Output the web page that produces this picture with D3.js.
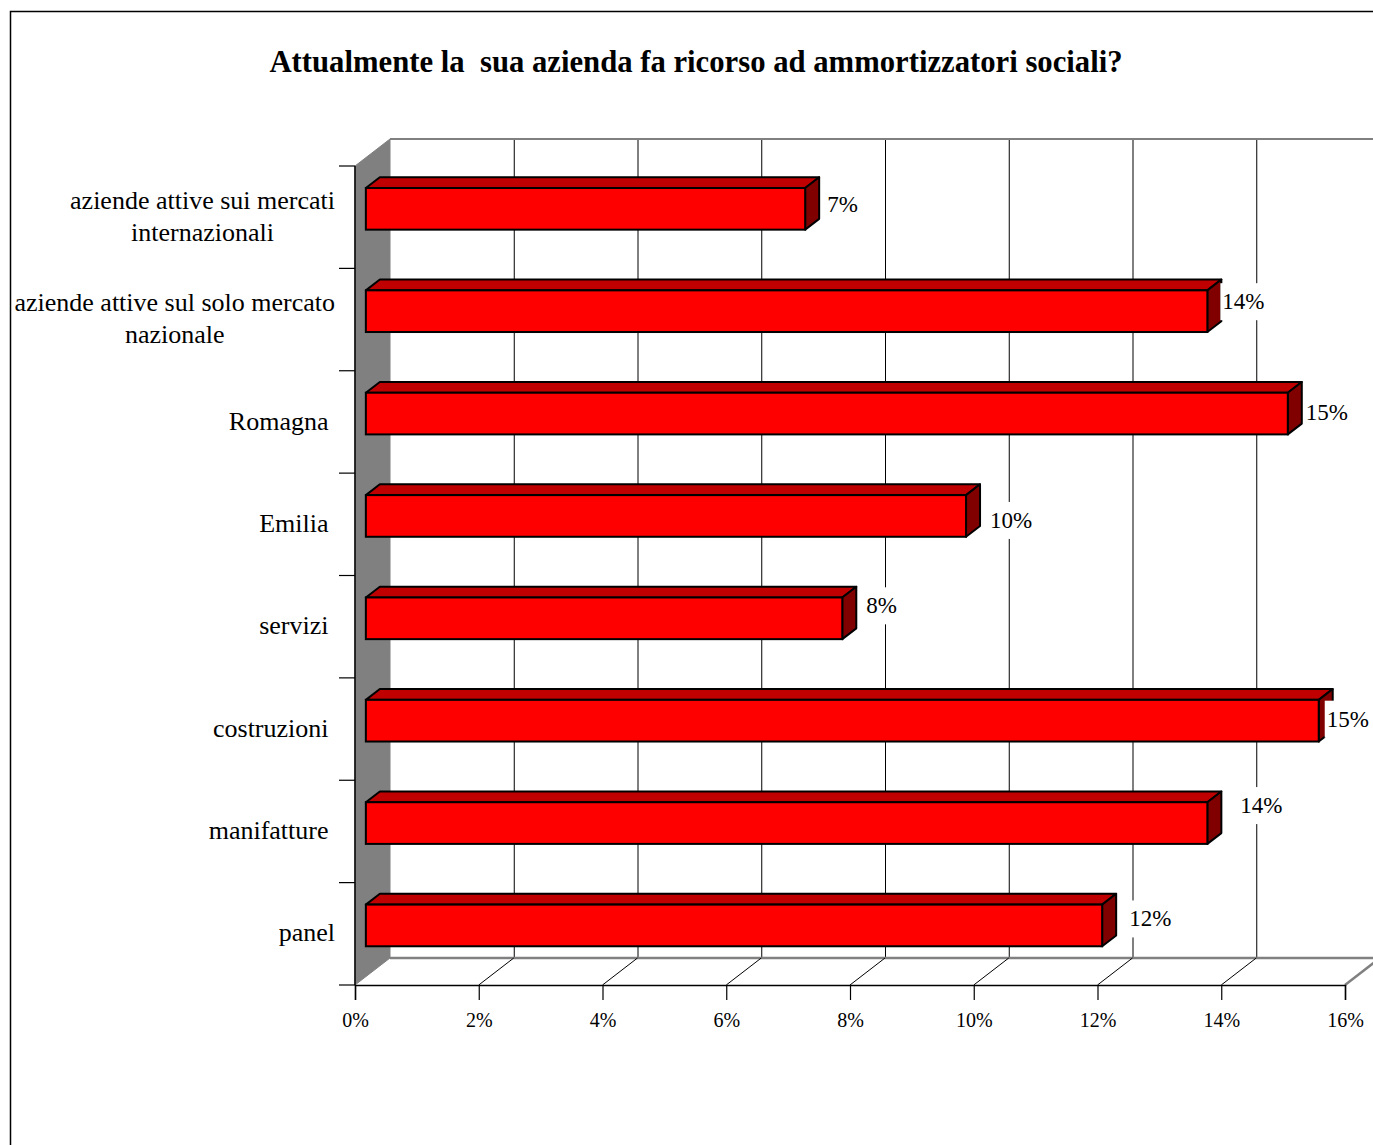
<!DOCTYPE html>
<html>
<head>
<meta charset="utf-8">
<script src="https://cdn.jsdelivr.net/npm/d3@7/dist/d3.min.js"></script>
<style>
  html, body { margin: 0; padding: 0; background: #fff; }
  svg { display: block; }
  text { font-family: "Liberation Serif", "Times New Roman", serif; fill: #000; white-space: pre; }
</style>
</head>
<body>
<svg id="chart" width="1373" height="1145"></svg>
<script>
// Chart text and values (percent of firms)
const title = "Attualmente la  sua azienda fa ricorso ad ammortizzatori sociali?";
const categories = [
  "aziende attive sui mercati\ninternazionali",
  "aziende attive sul solo mercato\nnazionale",
  "Romagna ",
  "Emilia ",
  "servizi ",
  "costruzioni ",
  "manifatture ",
  "panel"
];
const values = [7.1, 13.6, 14.9, 9.7, 7.7, 15.4, 13.6, 11.9];
const tickValues = [0, 2, 4, 6, 8, 10, 12, 14, 16];
const tickLabels = ["0%", "2%", "4%", "6%", "8%", "10%", "12%", "14%", "16%"];

// Hand-placed offsets of the value labels from the bar ends (px)
const labelNudge = [[22, -5], [15, -10], [18, -2], [24, 4], [24, -13], [8, -2], [33, -18], [27, -7]];

const svg = d3.select("#chart");

// Outer frame
svg.append("rect")
  .attr("x", 10.5).attr("y", 11.5).attr("width", 1420).attr("height", 1200)
  .attr("fill", "none").attr("stroke", "#000").attr("stroke-width", 1.5);

// Title
svg.append("text")
  .attr("x", 696).attr("y", 72)
  .attr("text-anchor", "middle")
  .attr("font-size", 30.7).attr("font-weight", "bold")
  .text(title);

// Plot geometry: front plane + depth offset to the back wall
const x = d3.scaleLinear().domain([0, 16]).range([355, 1345]);
const y = d3.scaleBand().domain(d3.range(categories.length)).range([166, 985]);
const DX = 35, DY = -27;            // full depth
const yTop = 166, yBot = 985;

const g = svg.append("g");

// Left side wall
g.append("path")
  .attr("d", `M${x(0)},${yTop} L${x(0) + DX},${yTop + DY} L${x(0) + DX},${yBot + DY} L${x(0)},${yBot} Z`)
  .attr("fill", "#808080").attr("stroke", "#808080").attr("stroke-width", 1);

// Back wall gridlines
g.selectAll("line.grid").data(tickValues.slice(1)).join("line")
  .attr("class", "grid")
  .attr("x1", d => x(d) + DX + 0.5).attr("x2", d => x(d) + DX + 0.5)
  .attr("y1", yTop + DY).attr("y2", yBot + DY)
  .attr("stroke", "#000").attr("stroke-width", 1);

// Back wall top edge and floor back edge
g.append("line")
  .attr("x1", x(0) + DX).attr("x2", x(16) + DX)
  .attr("y1", yTop + DY).attr("y2", yTop + DY)
  .attr("stroke", "#808080").attr("stroke-width", 2);
g.append("line")
  .attr("x1", x(0) + DX).attr("x2", x(16) + DX)
  .attr("y1", yBot + DY).attr("y2", yBot + DY)
  .attr("stroke", "#808080").attr("stroke-width", 2.5);

// Floor lines running into depth at each tick
g.selectAll("line.floor").data(tickValues.slice(1, -1)).join("line")
  .attr("class", "floor")
  .attr("x1", d => x(d)).attr("y1", yBot)
  .attr("x2", d => x(d) + DX).attr("y2", yBot + DY)
  .attr("stroke", "#000").attr("stroke-width", 1);
g.append("line")
  .attr("x1", x(16)).attr("y1", yBot)
  .attr("x2", x(16) + DX).attr("y2", yBot + DY)
  .attr("stroke", "#808080").attr("stroke-width", 2.5);

// Front edge of the wall (category axis) with tick marks
g.append("line")
  .attr("x1", x(0)).attr("x2", x(0)).attr("y1", yTop).attr("y2", yBot)
  .attr("stroke", "#000").attr("stroke-width", 1.5);
const catTicks = d3.range(categories.length + 1).map(i => yTop + i * y.step());
g.selectAll("line.ctick").data(catTicks).join("line")
  .attr("class", "ctick")
  .attr("x1", x(0) - 16).attr("x2", x(0))
  .attr("y1", d => d).attr("y2", d => d)
  .attr("stroke", "#000").attr("stroke-width", 1.2);

// Value axis along the floor front edge
const axis = d3.axisBottom(x).tickValues(tickValues)
  .tickFormat((d, i) => tickLabels[i]).tickSize(15).tickPadding(13);
const ax = svg.append("g").attr("transform", `translate(0,${yBot})`).call(axis);
ax.select(".domain").attr("stroke", "#000").attr("stroke-width", 1.5);
ax.selectAll(".tick line").attr("stroke", "#000").attr("stroke-width", 1.2);
ax.selectAll(".tick text")
  .attr("font-family", "Liberation Serif, Times New Roman, serif")
  .attr("font-size", 20).attr("fill", "#000");

// 3D bars: front face sits at 31% of the depth, back face at 71%
const f0 = 0.31, f1 = 0.71;
const half = y.bandwidth() * 0.2035;
const bars = g.selectAll("g.bar").data(values).join("g").attr("class", "bar");

function barGeom(v, i) {
  const c = y(i) + y.bandwidth() / 2;
  const xl = x(0) + DX * f0, xr = x(v) + DX * f0;
  const yt = c - half + DY * f0, yb = c + half + DY * f0;
  const ox = DX * (f1 - f0), oy = DY * (f1 - f0);
  return { xl, xr, yt, yb, ox, oy };
}

bars.append("path") // top face
  .attr("d", (v, i) => {
    const b = barGeom(v, i);
    return `M${b.xl},${b.yt} L${b.xl + b.ox},${b.yt + b.oy} L${b.xr + b.ox},${b.yt + b.oy} L${b.xr},${b.yt} Z`;
  })
  .attr("fill", "#C00000").attr("stroke", "#000").attr("stroke-width", 2).attr("stroke-linejoin", "round");
bars.append("path") // right end face
  .attr("d", (v, i) => {
    const b = barGeom(v, i);
    return `M${b.xr},${b.yt} L${b.xr + b.ox},${b.yt + b.oy} L${b.xr + b.ox},${b.yb + b.oy} L${b.xr},${b.yb} Z`;
  })
  .attr("fill", "#800000").attr("stroke", "#000").attr("stroke-width", 2).attr("stroke-linejoin", "round");
bars.append("rect") // front face
  .attr("x", (v, i) => barGeom(v, i).xl)
  .attr("y", (v, i) => barGeom(v, i).yt)
  .attr("width", (v, i) => barGeom(v, i).xr - barGeom(v, i).xl)
  .attr("height", (v, i) => barGeom(v, i).yb - barGeom(v, i).yt)
  .attr("fill", "#FF0000").attr("stroke", "#000").attr("stroke-width", 2);

// Value labels on white boxes
const fmt = v => Math.round(v) + "%";
values.forEach((v, i) => {
  const b = barGeom(v, i);
  const lx = b.xr + labelNudge[i][0];
  const ly = (b.yt + b.yb) / 2 + labelNudge[i][1];
  const lg = svg.append("g");
  const box = lg.append("rect").attr("fill", "#fff");
  const t = lg.append("text")
    .attr("x", lx).attr("y", ly).attr("dy", "0.35em")
    .attr("font-size", 23).text(fmt(v));
  const bb = t.node().getBBox();
  box.attr("x", bb.x - 2).attr("y", ly - 18).attr("width", bb.width + 4).attr("height", 37);
});

// Category labels (multi-line, centred, right edge aligned near the axis)
const lineH = 32;
categories.forEach((c, i) => {
  const lines = c.split("\n");
  const cy = y(i) + y.bandwidth() / 2 - 1.5;
  const tg = svg.append("g");
  const texts = lines.map((ln, k) => tg.append("text")
    .attr("y", cy + (k - (lines.length - 1) / 2) * lineH)
    .attr("dy", "0.35em")
    .attr("font-size", 26)
    .attr("text-anchor", "middle")
    .text(ln));
  const w = d3.max(texts, t => t.node().getComputedTextLength());
  texts.forEach(t => t.attr("x", 335 - w / 2));
});
</script>
</body>
</html>
